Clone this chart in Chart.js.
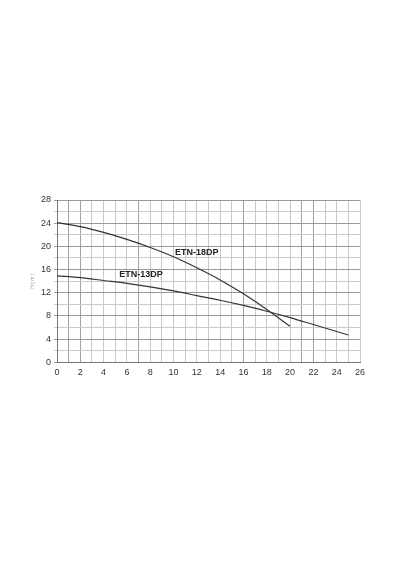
<!DOCTYPE html>
<html>
<head>
<meta charset="utf-8">
<script src="https://cdn.jsdelivr.net/npm/chart.js@4/dist/chart.umd.min.js"></script>
<style>
  body { margin: 0; background: #fff; }
  #pumpChart { display: block; }
</style>
</head>
<body>
<canvas id="pumpChart" width="400" height="570"></canvas>
<script>
// Q (m3/h) vs H (m)
const flow18 = [0, 2, 4, 6, 8, 10, 12, 14, 16, 18, 20];
const head18 = [24.1, 23.4, 22.4, 21.2, 19.8, 18.2, 16.3, 14.2, 11.8, 9.1, 6.2];

const flow13 = [0, 2, 4, 6, 8, 10, 12, 14, 16, 18, 20, 22, 25];
const head13 = [14.9, 14.6, 14.1, 13.6, 13.0, 12.3, 11.5, 10.7, 9.8, 8.8, 7.7, 6.5, 4.7];

const curveNames = ['ETN-18DP', 'ETN-13DP'];
const nameX = [12.0, 7.2];
const nameY = [19.0, 15.2];

const yTitle = 'H ( m )';

// darker lines seen on the scanned grid
const darkX = [1, 2, 7, 16, 21, 22];

function toPoints(xs, ys) {
    return xs.map((x, i) => ({ x: x, y: ys[i] }));
}

const curveLabels = {
    id: 'curveLabels',
    afterDatasetsDraw(chart) {
        const c = chart.ctx;
        const xs = chart.scales.x;
        const ys = chart.scales.y;
        c.save();
        c.font = 'bold 9px "Liberation Sans", Arial, sans-serif';
        c.fillStyle = '#222';
        c.textAlign = 'center';
        c.textBaseline = 'middle';
        curveNames.forEach((name, i) => {
            c.fillText(name, xs.getPixelForValue(nameX[i]), ys.getPixelForValue(nameY[i]));
        });
        c.restore();
    }
};

const ctx = document.getElementById('pumpChart').getContext('2d');
let pumpChart = new Chart(ctx, {
    type: 'scatter',
    data: {
        datasets: [{
            label: curveNames[0],
            data: toPoints(flow18, head18),
            showLine: true,
            borderColor: '#333',
            borderWidth: 1.2,
            pointRadius: 0,
            cubicInterpolationMode: 'monotone'
        }, {
            label: curveNames[1],
            data: toPoints(flow13, head13),
            showLine: true,
            borderColor: '#333',
            borderWidth: 1.2,
            pointRadius: 0,
            cubicInterpolationMode: 'monotone'
        }]
    },
    options: {
        responsive: false,
        animation: false,
        layout: {
            padding: { top: 200, bottom: 187, left: 28, right: 40 }
        },
        plugins: {
            legend: { display: false },
            tooltip: { enabled: false }
        },
        scales: {
            x: {
                type: 'linear',
                min: 0,
                max: 26,
                border: { color: '#777', width: 1 },
                grid: {
                    drawTicks: false,
                    color: function(c) {
                        const v = c.tick ? c.tick.value : 0;
                        if (v === 0) return '#777';
                        return darkX.includes(v) ? '#a2a2a2' : '#cacaca';
                    }
                },
                ticks: {
                    stepSize: 1,
                    autoSkip: false,
                    maxRotation: 0,
                    padding: 5,
                    color: '#333',
                    font: { family: '"Liberation Sans", Arial, sans-serif', size: 9 },
                    callback: function(v) { return v % 2 === 0 ? v : ''; }
                }
            },
            y: {
                type: 'linear',
                min: 0,
                max: 28,
                border: { color: '#777', width: 1 },
                title: {
                    display: true,
                    text: yTitle,
                    color: '#999',
                    padding: 2,
                    font: { family: '"Liberation Sans", Arial, sans-serif', size: 5 }
                },
                grid: {
                    tickLength: 3,
                    color: function(c) {
                        const v = c.tick ? c.tick.value : 0;
                        return v % 4 === 0 ? '#9a9a9a' : '#cacaca';
                    }
                },
                ticks: {
                    stepSize: 2,
                    autoSkip: false,
                    padding: 3,
                    color: '#333',
                    font: { family: '"Liberation Sans", Arial, sans-serif', size: 9 },
                    callback: function(v) { return v % 4 === 0 ? v : ''; }
                }
            }
        }
    },
    plugins: [curveLabels]
});
</script>
</body>
</html>
